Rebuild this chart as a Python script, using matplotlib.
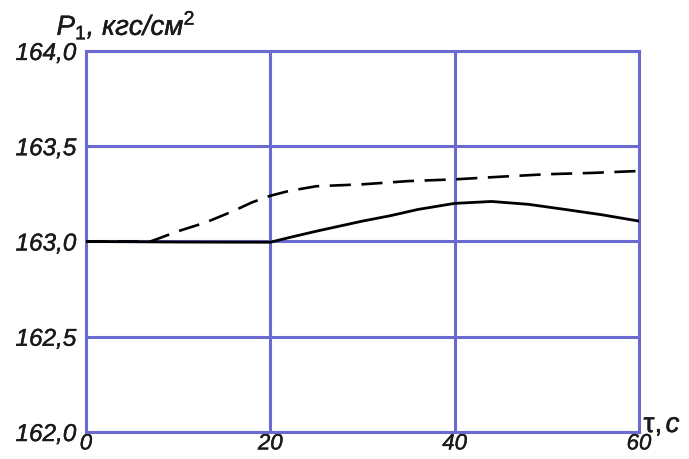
import matplotlib
matplotlib.use('Agg')
import matplotlib.pyplot as plt
import matplotlib.patheffects as pe

plt.rcParams['font.family'] = ['Liberation Sans', 'DejaVu Sans']
plt.rcParams['mathtext.fontset'] = 'custom'
plt.rcParams['mathtext.rm'] = 'Liberation Sans'
plt.rcParams['mathtext.it'] = 'Liberation Sans:italic'

# time, s
t_dash = [0, 7, 10, 13, 16, 18, 20, 22, 25, 30, 35, 40, 45, 50, 55, 60]
p_dash = [163.0, 163.0, 163.054, 163.10, 163.16, 163.205, 163.24, 163.265,
          163.29, 163.30, 163.317, 163.326, 163.34, 163.353, 163.36, 163.37]

t_solid = [0, 10, 20, 22, 25, 30, 33, 36, 40, 44, 48, 52, 56, 60]
p_solid = [163.0, 162.997, 162.996, 163.02, 163.054, 163.107, 163.135, 163.168,
           163.20, 163.21, 163.195, 163.168, 163.14, 163.107]

x_ticks = [0, 20, 40, 60]
x_labels = ['0', '20', '40', '60']
y_ticks = [162.0, 162.5, 163.0, 163.5, 164.0]
y_labels = ['162,0', '162,5', '163,0', '163,5', '164,0']

grid_color = '#6a6ad0'
text_color = '#1a1a1a'
bold = [pe.withStroke(linewidth=0.3, foreground=text_color)]

fig = plt.figure(figsize=(6.89, 4.59), dpi=100)
ax = fig.add_axes([0.1248, 0.0588, 0.8026, 0.8302])

ax.plot(t_solid, p_solid, color='black', lw=2.0, solid_capstyle='round', zorder=3)
ax.plot(t_dash, p_dash, color='black', lw=1.9, dashes=(8, 4), zorder=3)

ax.set_xlim(0, 60)
ax.set_ylim(162.0, 164.0)
ax.set_xticks(x_ticks)
ax.set_yticks(y_ticks)
ax.set_xticklabels(x_labels, fontsize=16, style='italic', color=text_color)
ax.set_yticklabels(y_labels, fontsize=17.5, style='italic', color=text_color)
for lbl in ax.get_xticklabels() + ax.get_yticklabels():
    lbl.set_path_effects(bold)
ax.tick_params(axis='y', length=0, pad=7)
ax.tick_params(axis='x', length=0, pad=1)
ax.grid(True, color=grid_color, lw=2.2)
for s in ax.spines.values():
    s.set_color(grid_color)
    s.set_linewidth(2.2)

fig.text(0.082, 0.945, r'$P_1$, кгс/см$^2$', fontsize=20, style='italic',
         color=text_color, ha='left', va='center', path_effects=bold)
fig.text(0.934, 0.074, 'τ,', fontsize=20, color=text_color, ha='left',
         va='center', path_effects=bold)
fig.text(0.966, 0.074, 'c', fontsize=20, style='italic', color=text_color,
         ha='left', va='center', path_effects=bold)

plt.savefig('out.png', dpi=100)
plt.close()
